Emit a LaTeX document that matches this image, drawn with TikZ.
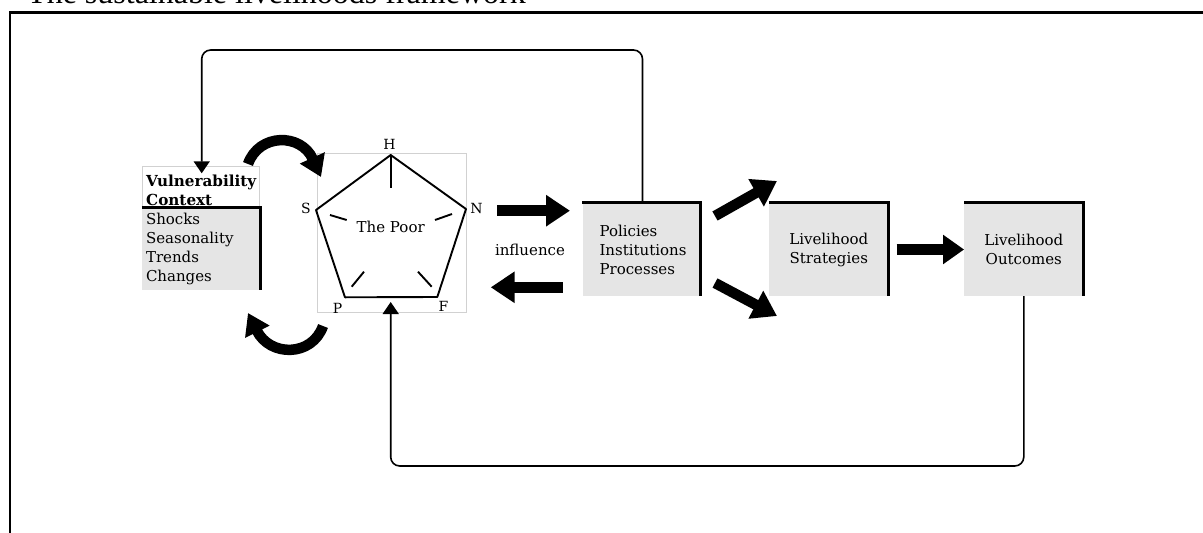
\documentclass[tikz,border=0pt]{standalone}
\usepackage{fontspec}
\setmainfont{DejaVu Serif}
\newfontfamily\titlefont{Liberation Serif}
\usetikzlibrary{arrows.meta,calc}
\definecolor{boxgray}{gray}{0.9}
\definecolor{rulegray}{gray}{0.82}
\tikzset{
  txt/.style={font=\fontsize{15}{19}\selectfont, inner sep=0pt},
  graybox/.style={fill=boxgray, draw=none, inner ysep=0pt, minimum height=93pt, font=\fontsize{15}{19}\selectfont},
  thickrule/.style={line width=3.2pt},
  fatarrow/.style={line width=10.5pt, -{Triangle[length=24pt,width=30pt]}},
  curvearrow/.style={line width=10.5pt, -{Triangle[length=21pt,width=26pt]}},
  fbline/.style={line width=1.6pt, rounded corners=9pt, -{Triangle[length=12pt,width=16pt]}},
  pent/.style={line width=1.9pt, line join=round},
  lbl/.style={font=\fontsize{14}{16}\selectfont, inner sep=0pt},
}
\begin{document}
\begin{tikzpicture}[x=1pt,y=-1pt]
\useasboundingbox (0,0) rectangle (1203,533);

% title and frame
\node[anchor=base west, inner sep=0pt, font=\titlefont\fontsize{32}{34}\selectfont] (title) at (27,3.6) {The sustainable livelihoods framework};
\draw[line width=2.5pt] (10,533) -- (10,12.5) -- (1203,12.5);

% vulnerability context
\node[draw=rulegray, line width=0.8pt, minimum width=117pt, minimum height=42pt, inner sep=0pt] (vc) at (200.5,187.4) {};
\node[txt, font=\bfseries\fontsize{15.2}{19.5}\selectfont, align=left, anchor=west] (vct) at (146,190.5) {Vulnerability\\Context};
\node[graybox, inner xsep=4pt, text width=110pt, minimum width=118pt, minimum height=82pt, align=left] (vcg) at (201,249) {Shocks\\Seasonality\\Trends\\Changes};
\draw[thickrule] (vcg.north west) -- (vcg.north east) -- (vcg.south east);

% pentagon (the poor)
\node[draw=rulegray, line width=0.8pt, minimum width=149pt, minimum height=159pt, inner sep=0pt] (pbox) at (391.5,232.5) {};
\coordinate (H) at (390.7,155);
\coordinate (N) at (466,209);
\coordinate (F) at (437.3,297);
\coordinate (P) at (345,297.3);
\coordinate (S) at (316,210);
\draw[pent] (H) -- (N) -- (F) -- (P) -- (S) -- cycle;
\draw[pent] (H) -- (390.7,188);
\draw[pent] (330,215) -- (346.7,220);
\draw[pent] (452,214) -- (435,220);
\draw[pent] (351.7,286.7) -- (364,271.7);
\draw[pent] (431.7,286.7) -- (418,271.7);
\node[txt] (poor) at (390.7,227) {The Poor};
\node[lbl] (lH) at (389.5,144) {H};
\node[lbl] (lN) at (476.5,208.3) {N};
\node[lbl] (lS) at (306,208.3) {S};
\node[lbl] (lP) at (337.7,308) {P};
\node[lbl] (lF) at (443.5,306) {F};

% curved arrows
\coordinate (c1s) at (248,164);
\coordinate (c1e) at (321,177);
\draw[curvearrow] (c1s) .. controls (259,133) and (301,133) .. (c1e);
\coordinate (c2s) at (323,326);
\coordinate (c2e) at (248,313);
\draw[curvearrow] (c2s) .. controls (312,357) and (270,357) .. (c2e);

% boxes
\node[graybox, inner xsep=17pt, text width=84pt, minimum width=118pt, align=left] (ppt) at (641.5,249.5) {Policies\\Institutions\\Processes};
\draw[thickrule] (ppt.north west) -- (ppt.north east) -- (ppt.south east);
\node[graybox, minimum width=119pt, align=center] (ls) at (828.8,249.5) {Livelihood\\Strategies};
\draw[thickrule] (ls.north west) -- (ls.north east) -- (ls.south east);
\node[graybox, minimum width=119pt, align=center] (lo) at (1023.8,249.5) {Livelihood\\Outcomes};
\draw[thickrule] (lo.north west) -- (lo.north east) -- (lo.south east);

% influence arrows
\node[txt] (infl) at (530,250) {influence};
\coordinate (a1s) at (497,210.7);
\coordinate (a1e) at (570,210.7);
\draw[fatarrow] (a1s) -- (a1e);
\coordinate (a2s) at (562.7,287.3);
\coordinate (a2e) at (490.7,287.3);
\draw[fatarrow] (a2s) -- (a2e);
\coordinate (a3s) at (715,216);
\coordinate (a3e) at (777,181);
\draw[fatarrow] (a3s) -- (a3e);
\coordinate (a4s) at (715,283);
\coordinate (a4e) at (777,316);
\draw[fatarrow] (a4s) -- (a4e);
\draw[line width=10.5pt, -{Triangle[length=21pt,width=28pt]}] ([xshift=8pt]ls.east) -- (lo.west);

% feedback loops
\coordinate (tl) at (201.7,50);
\coordinate (vtip) at (201.7,173.3);
\draw[fbline] ([xshift=1pt]ppt.north) |- (tl) -- (vtip);
\coordinate (bl) at (0,466);
\coordinate (ptip) at (390.7,302);
\draw[fbline] (lo.south) -- (lo.south |- bl) -| (ptip);
\end{tikzpicture}
\end{document}
